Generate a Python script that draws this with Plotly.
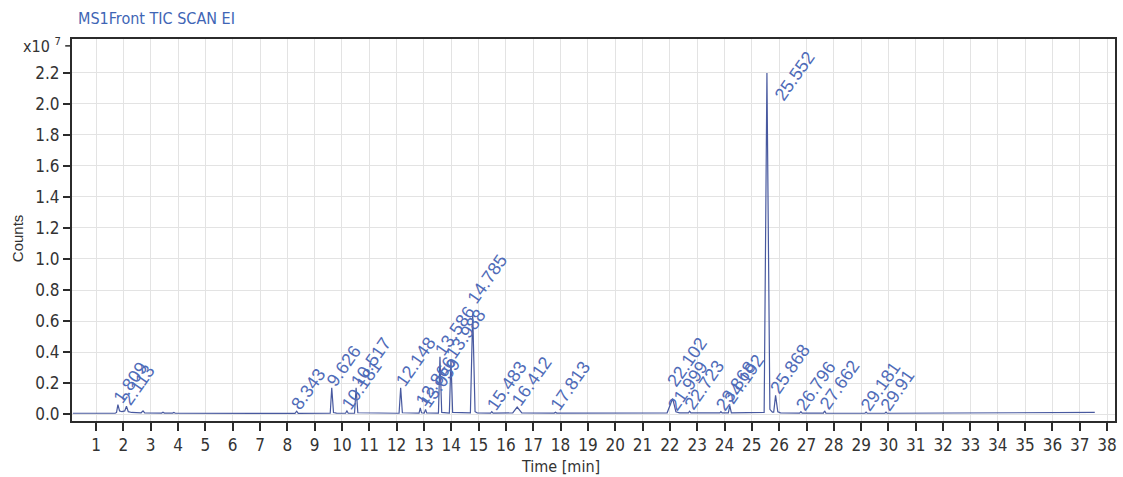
import plotly.graph_objects as go

# TIC trace (time in min, signal in units of 1e7 counts)
time_min = [
    0.15, 1.70, 1.75, 1.80, 1.86, 1.95, 2.05, 2.113, 2.18, 2.30,
    2.65, 2.72, 2.78, 3.40, 3.45, 3.50, 3.80, 3.85, 3.90,
    8.28, 8.343, 8.40, 9.57, 9.626, 9.69, 9.80,
    10.13, 10.181, 10.23, 10.46, 10.517, 10.58,
    12.09, 12.148, 12.21, 12.82, 12.866, 12.91, 13.01, 13.059, 13.10,
    13.53, 13.586, 13.65, 13.93, 13.988, 14.05,
    14.70, 14.785, 14.87, 14.95, 15.44, 15.483, 15.53,
    16.25, 16.412, 16.58, 17.77, 17.813, 17.86,
    21.90, 21.999, 22.102, 22.22, 22.35, 22.68, 22.723, 22.77,
    23.83, 23.868, 23.91, 24.14, 24.192, 24.25,
    25.45, 25.552, 25.66, 25.75, 25.80, 25.868, 25.95, 26.05,
    26.75, 26.796, 26.84, 27.62, 27.662, 27.71,
    29.14, 29.181, 29.22, 29.87, 29.91, 29.95,
    36.50, 37.55,
]
counts_e7 = [
    0.005, 0.005, 0.010, 0.060, 0.020, 0.015, 0.020, 0.050, 0.015, 0.010,
    0.008, 0.020, 0.008, 0.006, 0.012, 0.006, 0.006, 0.010, 0.005,
    0.004, 0.018, 0.004, 0.005, 0.170, 0.010, 0.006,
    0.005, 0.020, 0.005, 0.005, 0.170, 0.008,
    0.005, 0.170, 0.008, 0.006, 0.040, 0.008, 0.006, 0.030, 0.007,
    0.006, 0.370, 0.010, 0.006, 0.350, 0.010,
    0.008, 0.650, 0.015, 0.008, 0.006, 0.015, 0.006,
    0.007, 0.045, 0.008, 0.006, 0.012, 0.006,
    0.008, 0.060, 0.100, 0.015, 0.008, 0.007, 0.018, 0.007,
    0.007, 0.015, 0.007, 0.007, 0.055, 0.008,
    0.010, 2.200, 0.030, 0.012, 0.012, 0.120, 0.015, 0.008,
    0.006, 0.015, 0.006, 0.006, 0.020, 0.006,
    0.005, 0.012, 0.005, 0.005, 0.012, 0.005,
    0.006, 0.010,
]

# Labelled peaks: retention time and apex height
peak_rt = [1.809, 2.113, 8.343, 9.626, 10.181, 10.517, 12.148, 12.866, 13.059,
           13.586, 13.988, 14.785, 15.483, 16.412, 17.813, 21.999, 22.102,
           22.723, 23.868, 24.192, 25.552, 25.868, 26.796, 27.662, 29.181, 29.91]
peak_height = [0.060, 0.050, 0.018, 0.170, 0.020, 0.170, 0.170, 0.040, 0.030,
               0.370, 0.350, 0.650, 0.015, 0.045, 0.012, 0.060, 0.100,
               0.018, 0.015, 0.055, 2.200, 0.120, 0.015, 0.020, 0.012, 0.012]
peak_text = ["1.809", "2.113", "8.343", "9.626", "10.181", "10.517", "12.148",
             "12.866", "13.059", "13.586", "13.988", "14.785", "15.483", "16.412",
             "17.813", "21.999", "22.102", "22.723", "23.868", "24.192", "25.552",
             "25.868", "26.796", "27.662", "29.181", "29.91"]

x_ticks = list(range(1, 39))
y_ticks = [0.0, 0.2, 0.4, 0.6, 0.8, 1.0, 1.2, 1.4, 1.6, 1.8, 2.0, 2.2]

NARROW = "DejaVu Sans Condensed, Liberation Sans, Arial, sans-serif"
REGULAR = "Liberation Sans, Arial, sans-serif"
AXIS = "#2b2b2b"
TEXT = "#333333"
LABEL_BLUE = "#4f6bb8"

# label offsets in pixels, for the few labels nudged away from their apex
label_shift = {"21.999": (3, -7), "22.102": (0, 10), "25.552": (13, -29), "14.785": (0, 8)}

fig = go.Figure()
fig.add_trace(go.Scatter(
    x=time_min, y=counts_e7, mode="lines",
    line=dict(color="#48599f", width=1.2),
    hoverinfo="skip", showlegend=False,
))

for rt, h, txt in zip(peak_rt, peak_height, peak_text):
    dx, dy = label_shift.get(txt, (0, 0))
    fig.add_annotation(
        x=rt, y=h, text=txt, showarrow=False, textangle=-55,
        xanchor="left", yanchor="bottom", xshift=-12 + dx, yshift=-5 + dy,
        font=dict(family=REGULAR, size=18, color=LABEL_BLUE),
    )

# exponent marker at the top of the y axis
fig.add_annotation(
    xref="paper", yref="paper", x=0, y=0.982, xanchor="right", yanchor="middle",
    xshift=-9, text="x10 <sup>7</sup>", showarrow=False,
    font=dict(family=NARROW, size=16, color=TEXT),
)
fig.add_shape(type="line", xref="paper", yref="paper", x0=-0.0065, x1=0, y0=0.982, y1=0.982,
              line=dict(color=AXIS, width=1.5))

# axis titles
fig.add_annotation(xref="paper", yref="paper", x=0.468, y=-0.118, xanchor="center", yanchor="middle",
                   text="Time [min]", showarrow=False,
                   font=dict(family=NARROW, size=16, color=TEXT))
fig.add_annotation(xref="paper", yref="paper", x=-0.0526, y=0.479, xanchor="center", yanchor="middle",
                   text="Counts", textangle=-90, showarrow=False,
                   font=dict(family=REGULAR, size=15, color=TEXT))

fig.update_layout(
    width=1123, height=477,
    margin=dict(l=72, r=6, t=39, b=56),
    paper_bgcolor="white", plot_bgcolor="white",
    title=dict(text="MS1Front TIC SCAN EI", xref="container", yref="container",
               x=78 / 1123, xanchor="left", y=1 - 18 / 477, yanchor="middle",
               font=dict(family=NARROW, size=16, color="#4065b5")),
    xaxis=dict(
        range=[0.12, 38.29], tickmode="array", tickvals=x_ticks,
        ticktext=[str(v) for v in x_ticks],
        showgrid=True, gridcolor="#e3e3e3", gridwidth=1,
        showline=True, linecolor=AXIS, linewidth=2, mirror=True,
        ticks="outside", ticklen=8, tickwidth=1.5, tickcolor=AXIS,
        tickfont=dict(family=NARROW, size=17, color=TEXT),
        zeroline=False,
    ),
    yaxis=dict(
        range=[-0.045, 2.419], tickmode="array", tickvals=y_ticks,
        ticktext=[f"{v:.1f}" for v in y_ticks],
        showgrid=True, gridcolor="#e3e3e3", gridwidth=1,
        showline=True, linecolor=AXIS, linewidth=2, mirror=True,
        ticks="outside", ticklen=7, tickwidth=1.5, tickcolor=AXIS,
        tickfont=dict(family=NARROW, size=17, color=TEXT),
        zeroline=False,
    ),
)

fig.write_html("out.html")
